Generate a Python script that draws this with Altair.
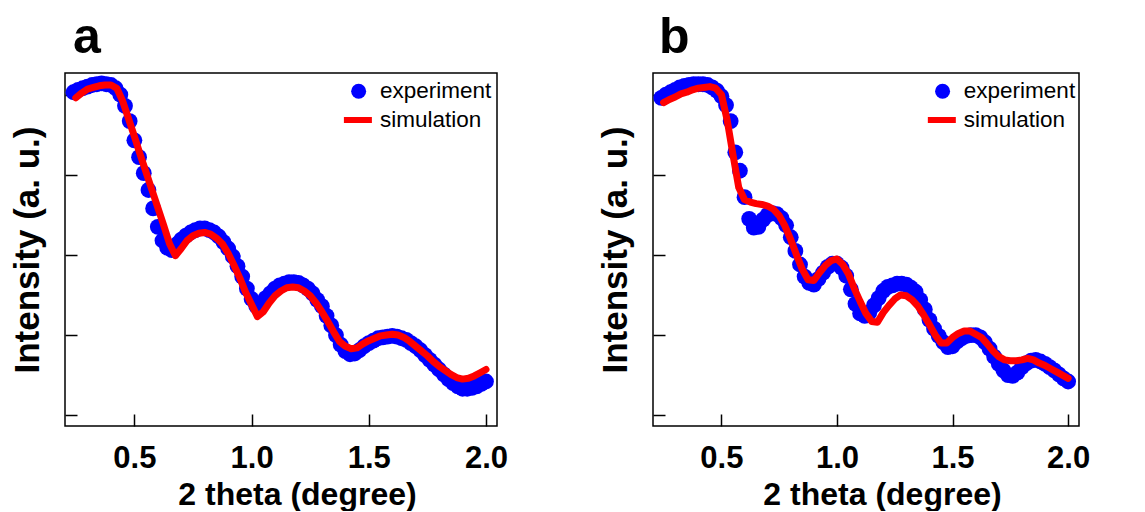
import altair as alt
import pandas as pd

# ---------------- data ----------------
EXP_X = [0.24, 0.26, 0.28, 0.30, 0.32, 0.34, 0.36, 0.38, 0.40, 0.42,
         0.44, 0.46, 0.48, 0.50, 0.52, 0.54, 0.56, 0.58, 0.60, 0.62,
         0.64, 0.66, 0.68, 0.70, 0.72, 0.74, 0.76, 0.78, 0.80, 0.82,
         0.84, 0.86, 0.88, 0.90, 0.92, 0.94, 0.96, 0.98, 1.00, 1.02,
         1.04, 1.06, 1.08, 1.10, 1.12, 1.14, 1.16, 1.18, 1.20, 1.22,
         1.24, 1.26, 1.28, 1.30, 1.32, 1.34, 1.36, 1.38, 1.40, 1.42,
         1.44, 1.46, 1.48, 1.50, 1.52, 1.54, 1.56, 1.58, 1.60, 1.62,
         1.64, 1.66, 1.68, 1.70, 1.72, 1.74, 1.76, 1.78, 1.80, 1.82,
         1.84, 1.86, 1.88, 1.90, 1.92, 1.94, 1.96, 1.98, 2.00]

SIM_X = [0.250, 0.275, 0.300, 0.325, 0.350, 0.375, 0.400, 0.425, 0.450, 0.475,
         0.500, 0.525, 0.550, 0.575, 0.600, 0.625, 0.650, 0.675, 0.700, 0.725,
         0.750, 0.775, 0.800, 0.825, 0.850, 0.875, 0.900, 0.925, 0.950, 0.975,
         1.000, 1.025, 1.050, 1.075, 1.100, 1.125, 1.150, 1.175, 1.200, 1.225,
         1.250, 1.275, 1.300, 1.325, 1.350, 1.375, 1.400, 1.425, 1.450, 1.475,
         1.500, 1.525, 1.550, 1.575, 1.600, 1.625, 1.650, 1.675, 1.700, 1.725,
         1.750, 1.775, 1.800, 1.825, 1.850, 1.875, 1.900, 1.925, 1.950, 1.975,
         2.000]

A_EXP = [4.03, 4.06, 4.08, 4.10, 4.12, 4.13, 4.14, 4.13, 4.12, 4.08,
         4.00, 3.86, 3.67, 3.43, 3.22, 3.02, 2.81, 2.58, 2.35, 2.18,
         2.09, 2.06, 2.13, 2.19, 2.24, 2.28, 2.31, 2.33, 2.33, 2.31,
         2.28, 2.23, 2.16, 2.08, 1.98, 1.86, 1.73, 1.58, 1.45, 1.36,
         1.39, 1.46, 1.52, 1.58, 1.62, 1.64, 1.66, 1.66, 1.65, 1.62,
         1.58, 1.52, 1.44, 1.36, 1.24, 1.12, 1.00, 0.88, 0.80, 0.76,
         0.77, 0.81, 0.86, 0.90, 0.93, 0.96, 0.97, 0.98, 0.99, 0.98,
         0.96, 0.94, 0.90, 0.86, 0.81, 0.75, 0.69, 0.63, 0.57, 0.51,
         0.45, 0.40, 0.36, 0.33, 0.33, 0.34, 0.36, 0.39, 0.42]

A_SIM = [3.96, 4.02, 4.07, 4.09, 4.11, 4.12, 4.12, 4.08, 3.92, 3.70,
         3.48, 3.25, 3.03, 2.81, 2.59, 2.37, 2.14, 1.99, 2.08, 2.18,
         2.24, 2.27, 2.28, 2.26, 2.21, 2.14, 2.02, 1.87, 1.71, 1.53,
         1.38, 1.23, 1.29, 1.40, 1.49, 1.55, 1.59, 1.60, 1.59, 1.55,
         1.49, 1.40, 1.29, 1.17, 1.04, 0.92, 0.86, 0.83, 0.84, 0.89,
         0.93, 0.96, 0.99, 1.00, 1.01, 1.00, 0.97, 0.92, 0.86, 0.80,
         0.74, 0.67, 0.61, 0.56, 0.51, 0.47, 0.45, 0.46, 0.49, 0.53,
         0.57]

B_EXP = [3.96, 4.00, 4.03, 4.06, 4.09, 4.11, 4.12, 4.13, 4.13, 4.13,
         4.12, 4.09, 4.05, 3.98, 3.87, 3.67, 3.28, 3.05, 2.72, 2.45,
         2.34, 2.35, 2.44, 2.50, 2.52, 2.51, 2.46, 2.37, 2.22, 2.05,
         1.88, 1.73, 1.65, 1.63, 1.70, 1.78, 1.85, 1.89, 1.89, 1.84,
         1.74, 1.57, 1.39, 1.27, 1.24, 1.28, 1.37, 1.46, 1.55, 1.60,
         1.62, 1.64, 1.64, 1.63, 1.59, 1.54, 1.44, 1.32, 1.19, 1.08,
         0.99, 0.91, 0.85, 0.86, 0.92, 0.96, 0.99, 1.00, 1.00, 0.97,
         0.91, 0.83, 0.73, 0.64, 0.56, 0.50, 0.49, 0.53, 0.60, 0.65,
         0.68, 0.69, 0.67, 0.64, 0.60, 0.56, 0.51, 0.46, 0.42]

B_SIM = [3.90, 3.94, 3.97, 4.01, 4.03, 4.06, 4.08, 4.09, 4.10, 4.08,
         4.00, 3.68, 3.25, 2.84, 2.69, 2.66, 2.64, 2.63, 2.61, 2.57,
         2.49, 2.36, 2.19, 2.00, 1.82, 1.69, 1.68, 1.78, 1.87, 1.93,
         1.95, 1.88, 1.76, 1.58, 1.42, 1.27, 1.17, 1.16, 1.28, 1.37,
         1.45, 1.50, 1.49, 1.44, 1.36, 1.25, 1.13, 1.00, 0.90, 0.90,
         0.97, 1.02, 1.05, 1.05, 1.01, 0.97, 0.89, 0.80, 0.73, 0.69,
         0.68, 0.68, 0.69, 0.71, 0.69, 0.65, 0.62, 0.58, 0.54, 0.50,
         0.46]

X_TICKS = [0.5, 1.0, 1.5, 2.0]
Y_TICKS = [0, 1, 2, 3, 4]
SERIES = ["experiment", "simulation"]
PANEL_LABELS = ["a", "b"]
X_TITLE = "2 theta (degree)"
Y_TITLE = "Intensity (a. u.)"

FONT = "Liberation Sans"
H = 353


def panel(letter, exp_y, sim_y, width, dx):
    exp_df = pd.DataFrame({"theta": EXP_X, "intensity": exp_y, "series": SERIES[0]})
    sim_df = pd.DataFrame({"theta": SIM_X, "intensity": sim_y, "series": SERIES[1]})
    xs = alt.Scale(domain=[0.204, 2.047], nice=False, zero=False)
    ys = alt.Scale(domain=[-0.135, 4.27], nice=False, zero=False)
    xa = alt.Axis(values=X_TICKS, format=".1f", offset=-12, tickSize=12,
                  labelPadding=17, labelFontSize=31, titlePadding=6,
                  titleFontSize=32, title=X_TITLE,
                  titleX=width / 2 + 16, grid=False, domain=False)
    ya = alt.Axis(values=Y_TICKS, labels=False, offset=-12, tickSize=12,
                  titlePadding=19, titleFontSize=35, title=Y_TITLE,
                  grid=False, domain=False)
    cx = 0.678 * width
    pts = alt.Chart(exp_df).mark_circle(size=250, opacity=1).encode(
        x=alt.X("theta:Q", scale=xs, axis=xa),
        y=alt.Y("intensity:Q", scale=ys, axis=ya),
        fill=alt.Fill("series:N",
                      scale=alt.Scale(domain=[SERIES[0]], range=["#0000ff"]),
                      legend=alt.Legend(title=None, orient="none",
                                        legendX=cx - 10.5, legendY=7,
                                        symbolType="circle", symbolSize=225,
                                        symbolStrokeWidth=0, labelOffset=10)),
    )
    line = alt.Chart(sim_df).mark_line(strokeWidth=7, strokeCap="round",
                                       strokeJoin="round").encode(
        x=alt.X("theta:Q", scale=xs, axis=xa),
        y=alt.Y("intensity:Q", scale=ys, axis=ya),
        stroke=alt.Stroke("series:N",
                          scale=alt.Scale(domain=[SERIES[1]], range=["#ff0000"]),
                          legend=alt.Legend(title=None, orient="none",
                                            legendX=cx - 17, legendY=30,
                                            symbolType="stroke", symbolSize=784,
                                            symbolStrokeWidth=6, labelOffset=5)),
    )
    return alt.layer(pts, line).properties(
        width=width, height=H,
        title=alt.TitleParams(letter, anchor="start", frame="group", fontSize=50,
                              fontWeight="bold", font=FONT, color="black",
                              dx=dx, offset=10),
    )


pa = panel(PANEL_LABELS[0], A_EXP, A_SIM, 432, 8)
pb = panel(PANEL_LABELS[1], B_EXP, B_SIM, 426, 6)

chart = (
    alt.hconcat(pa, pb, spacing=88)
    .resolve_scale(x="independent", y="independent",
                   fill="independent", stroke="independent")
    .resolve_legend(fill="independent", stroke="independent")
    .properties(padding={"left": 1, "top": 4, "right": 5, "bottom": 0})
    .configure_view(stroke="black", strokeWidth=1.5)
    .configure_axis(labelFont=FONT, labelFontWeight="bold",
                    labelColor="black", titleFont=FONT,
                    titleFontWeight="bold", titleColor="black",
                    tickColor="black", tickWidth=1.5)
    .configure_legend(labelFont=FONT, labelFontSize=22.5, labelColor="black",
                      padding=0)
)

chart.save("out.html", embed_options={"renderer": "svg", "actions": False})
